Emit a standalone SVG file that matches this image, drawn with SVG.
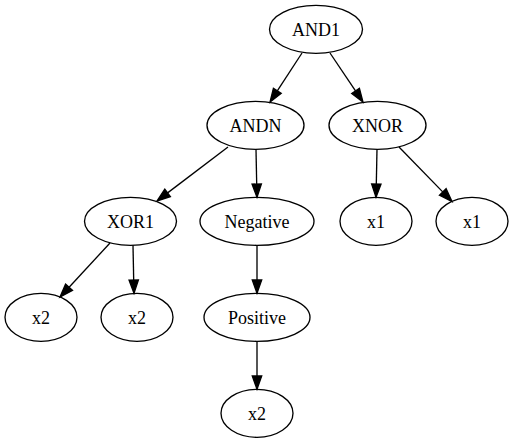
<svg xmlns="http://www.w3.org/2000/svg" width="513" height="443" viewBox="0 0 513 443">
<style>
ellipse{fill:none;stroke:#000;stroke-width:1.33}
text{font-family:'Liberation Serif','Times New Roman',serif;font-size:18px;text-anchor:middle;fill:#000}
.e line{stroke:#000;stroke-width:1.33}
.e polygon{fill:#000;stroke:#000;stroke-width:1.33}
</style>
<rect width="513" height="443" fill="#fff"/>
<g class="e" id="edges">
<line x1="302" y1="53" x2="277.3" y2="90.8"/><polygon points="273.4,88.3 270,102 281.2,93.4"/>
<line x1="330" y1="53" x2="355.5" y2="90.9"/><polygon points="351.7,93.5 363,102 359.4,88.3"/>
<line x1="228" y1="147" x2="167.6" y2="192.9"/><polygon points="164.8,189.2 157,201 170.4,196.7"/>
<line x1="256" y1="149.3" x2="256.7" y2="184"/><polygon points="252,184.1 257,197.3 261.4,183.9"/>
<line x1="377" y1="149.3" x2="376.3" y2="184"/><polygon points="371.6,183.9 376,197.3 381,184.1"/>
<line x1="399" y1="147" x2="442.7" y2="191.9"/><polygon points="439.4,195.2 452,201.5 446.1,188.7"/>
<line x1="110" y1="243" x2="69.1" y2="287.2"/><polygon points="65.6,284.1 60,297 72.5,290.4"/>
<line x1="133" y1="245.3" x2="133.7" y2="280"/><polygon points="129,280.1 134,293.3 138.4,279.9"/>
<line x1="257" y1="245.3" x2="257" y2="280"/><polygon points="252.3,280 257,293.3 261.7,280"/>
<line x1="257" y1="341.3" x2="257" y2="376"/><polygon points="252.3,376 257,389.3 261.7,376"/>
</g>
<g id="AND1"><ellipse cx="316" cy="29.3" rx="46.5" ry="24"/><text x="316" y="35.5">AND1</text></g>
<g id="ANDN"><ellipse cx="255.5" cy="125.3" rx="48.5" ry="24"/><text x="255.5" y="131.5">ANDN</text></g>
<g id="XNOR"><ellipse cx="377.5" cy="125.3" rx="48.5" ry="24"/><text x="377.5" y="131.5">XNOR</text></g>
<g id="XOR1"><ellipse cx="130.5" cy="221.3" rx="46" ry="24"/><text x="130.5" y="227.5">XOR1</text></g>
<g id="Negative"><ellipse cx="257" cy="221.3" rx="57" ry="24"/><text x="257" y="227.5">Negative</text></g>
<g id="x1a"><ellipse cx="376" cy="221.3" rx="36" ry="24"/><text x="376" y="227.5">x1</text></g>
<g id="x1b"><ellipse cx="472" cy="221.3" rx="36" ry="24"/><text x="472" y="227.5">x1</text></g>
<g id="x2a"><ellipse cx="41" cy="317.3" rx="36" ry="24"/><text x="41" y="323.5">x2</text></g>
<g id="x2b"><ellipse cx="137" cy="317.3" rx="36" ry="24"/><text x="137" y="323.5">x2</text></g>
<g id="Positive"><ellipse cx="257" cy="317.3" rx="53" ry="24"/><text x="257" y="323.5">Positive</text></g>
<g id="x2c"><ellipse cx="257" cy="413.3" rx="36" ry="24"/><text x="257" y="419.5">x2</text></g>
</svg>
